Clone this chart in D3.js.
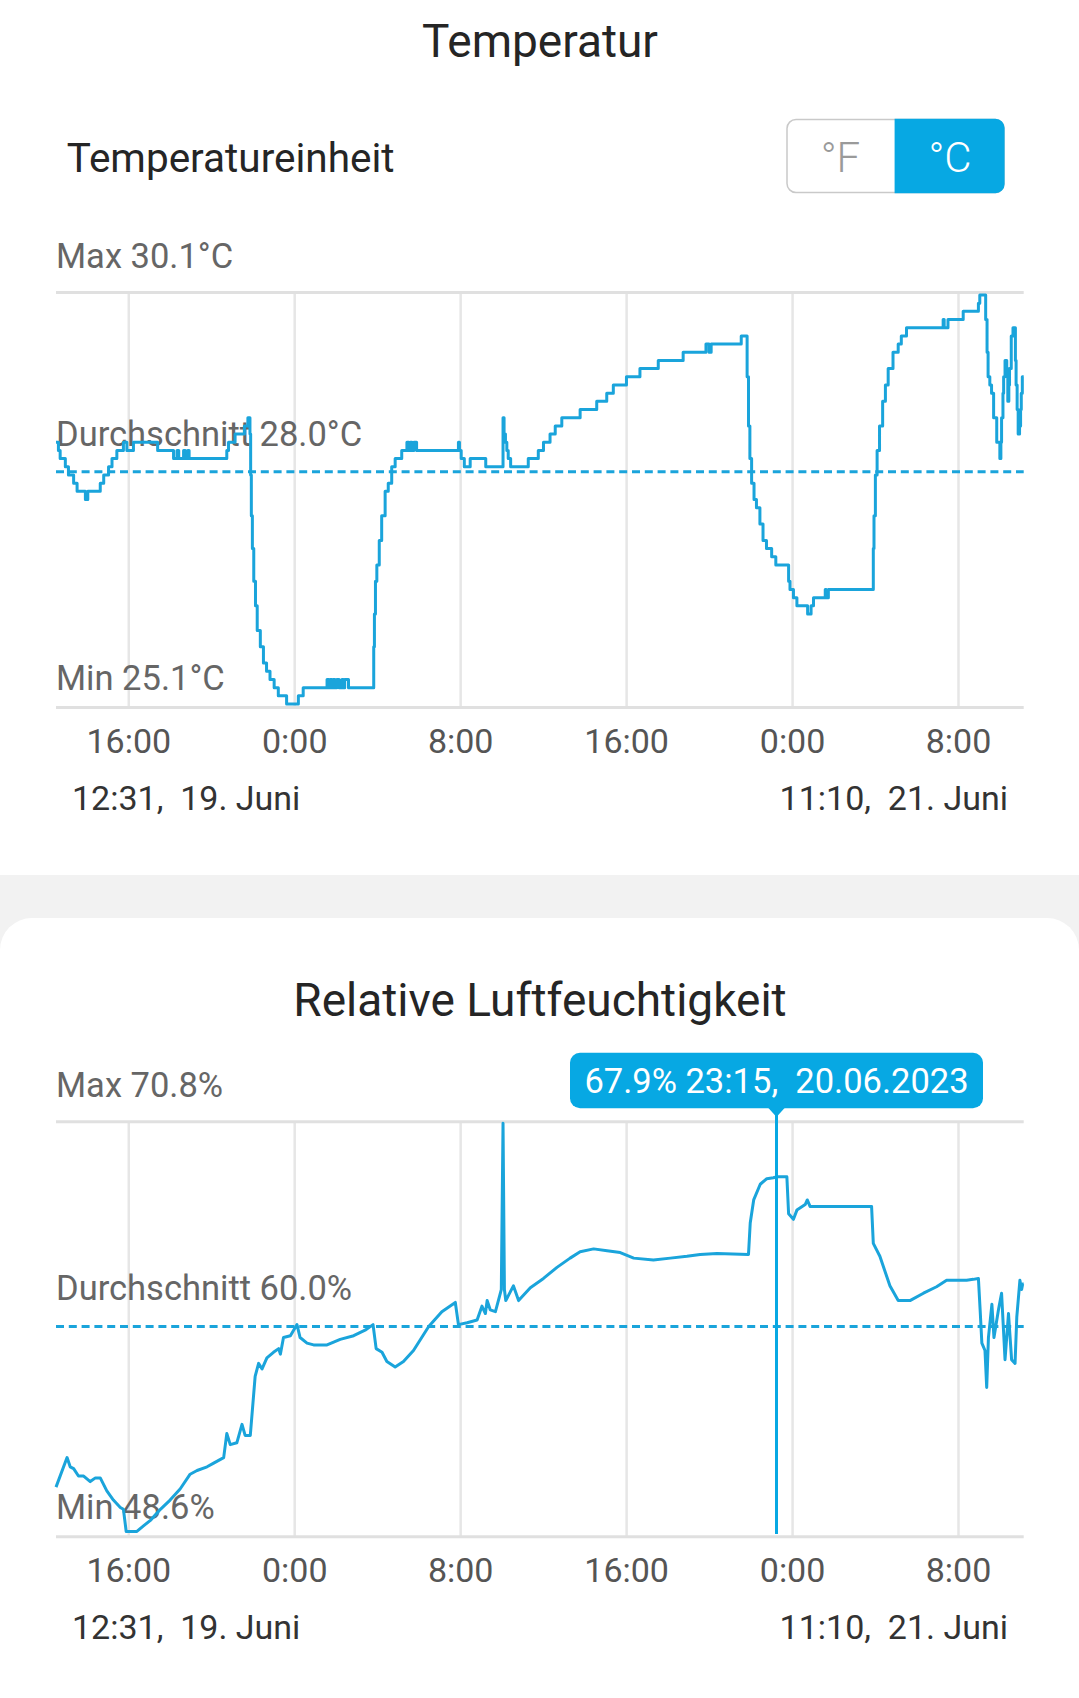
<!DOCTYPE html>
<html><head><meta charset="utf-8">
<script src="https://cdn.jsdelivr.net/npm/d3@7"></script>
<style>
html,body{margin:0;padding:0;background:#fff;}
svg{display:block;font-family:Roboto,"Noto Sans",sans-serif;}
text{white-space:pre;}
</style></head><body>
<svg id="c" width="1079" height="1698"></svg>
<script>
// ---------- DATA ----------
const RANGE_START = "19 12:31";
const RANGE_END = "21 11:10";
const RANGE_LABELS = ["12:31,  19. Juni", "11:10,  21. Juni"];
const TICK_EVERY_HOURS = 8;

const TEMP_TITLE = "Temperatur";
const TEMP_UNIT_LABEL = "Temperatureinheit";
const TEMP_UNITS = ["°F", "°C"];
const TEMP_DOMAIN = [25.1, 30.1];
const TEMP_AVG = 27.94;
const TEMP_LABELS = ["Max 30.1°C", "Durchschnitt 28.0°C", "Min 25.1°C"];
const TEMP_POINTS = [
["19 12:31",28.3],["19 12:38",28.2],["19 12:43",28.1],["19 12:58",28.0],["19 13:07",27.9],["19 13:22",27.8],["19 13:32",27.7],["19 13:56",27.6],["19 14:03",27.7],["19 14:39",27.8],["19 14:49",27.9],["19 15:03",28.0],["19 15:13",28.1],["19 15:27",28.2],["19 15:46",28.3],["19 15:56",28.2],["19 16:15",28.3],["19 17:25",28.2],["19 18:11",28.1],["19 18:21",28.2],["19 18:26",28.1],["19 18:40",28.2],["19 18:45",28.1],["19 18:52",28.2],["19 18:56",28.1],["19 20:45",28.2],["19 20:50",28.3],["19 21:09",28.4],["19 21:36",28.5],["19 21:46",28.6],["19 21:52",28.4],["19 21:54",27.9],["19 21:56",27.4],["19 21:59",27.0],["19 22:03",26.6],["19 22:08",26.3],["19 22:13",26.0],["19 22:22",25.8],["19 22:31",25.6],["19 22:40",25.5],["19 22:50",25.4],["19 23:02",25.3],["19 23:14",25.2],["19 23:38",25.1],
["20 00:12",25.2],["20 00:26",25.3],["20 01:35",25.4],["20 01:40",25.3],["20 01:44",25.4],["20 01:49",25.3],["20 01:53",25.4],["20 01:58",25.3],["20 02:03",25.4],["20 02:10",25.3],["20 02:18",25.4],["20 02:22",25.3],["20 02:26",25.4],["20 02:37",25.3],["20 03:50",25.8],["20 03:52",26.2],["20 03:55",26.6],["20 03:59",26.8],["20 04:06",27.1],["20 04:13",27.4],["20 04:23",27.7],["20 04:32",27.8],["20 04:42",28.0],["20 04:52",28.1],["20 05:11",28.2],["20 05:26",28.3],["20 05:32",28.2],["20 05:36",28.3],["20 05:41",28.2],["20 05:46",28.3],["20 05:54",28.2],["20 07:55",28.3],["20 07:58",28.2],["20 08:03",28.1],["20 08:12",28.0],["20 08:29",28.1],["20 09:14",28.0],["20 10:04",28.6],["20 10:07",28.4],["20 10:11",28.3],["20 10:15",28.2],["20 10:19",28.1],["20 10:26",28.0],["20 11:17",28.1],["20 11:46",28.2],["20 12:01",28.3],["20 12:20",28.4],["20 12:35",28.5],["20 12:54",28.6],["20 13:47",28.7],["20 14:35",28.8],["20 15:04",28.9],["20 15:23",29.0],["20 16:01",29.1],["20 16:40",29.2],["20 17:33",29.3],["20 18:45",29.4],["20 19:51",29.5],["20 20:00",29.4],["20 20:06",29.5],["20 21:33",29.6],["20 21:50",29.1],["20 21:54",28.5],["20 21:58",28.1],["20 22:03",27.8],["20 22:10",27.6],["20 22:17",27.5],["20 22:27",27.3],["20 22:36",27.1],["20 22:46",27.0],["20 23:01",26.9],["20 23:13",26.8],["20 23:50",26.6],["20 23:54",26.5],
["21 00:04",26.4],["21 00:14",26.3],["21 00:45",26.2],["21 00:55",26.3],["21 01:02",26.4],["21 01:36",26.5],["21 01:39",26.4],["21 01:45",26.5],["21 03:55",27.0],["21 03:57",27.4],["21 04:01",27.9],["21 04:06",28.2],["21 04:13",28.5],["21 04:22",28.8],["21 04:30",29.0],["21 04:38",29.2],["21 04:52",29.4],["21 05:07",29.5],["21 05:16",29.6],["21 05:31",29.7],["21 07:17",29.8],["21 07:20",29.7],["21 07:31",29.8],["21 08:15",29.9],["21 08:59",30.0],["21 09:03",30.1],["21 09:20",29.8],["21 09:24",29.4],["21 09:27",29.1],["21 09:32",29.0],["21 09:37",28.9],["21 09:43",28.6],["21 09:52",28.3],["21 10:01",28.1],["21 10:04",28.3],["21 10:06",28.6],["21 10:10",28.9],["21 10:12",29.1],["21 10:16",29.3],["21 10:21",29.2],["21 10:24",28.8],["21 10:27",29.0],["21 10:29",29.2],["21 10:34",29.6],["21 10:39",29.7],["21 10:44",29.7],["21 10:46",29.3],["21 10:48",29.0],["21 10:51",28.7],["21 10:54",28.4],["21 10:58",28.5],["21 11:01",28.7],["21 11:03",28.9],["21 11:06",29.1],["21 11:10",29.1]
];

const HUM_TITLE = "Relative Luftfeuchtigkeit";
const HUM_DOMAIN = [48.6, 70.8];
const HUM_AVG = 59.8;
const HUM_LABELS = ["Max 70.8%", "Durchschnitt 60.0%", "Min 48.6%"];
const HUM_POINTS = [
["19 12:31",51.1],["19 13:03",52.7],["19 13:12",52.2],["19 13:22",52.1],["19 13:36",51.7],["19 13:51",51.7],["19 14:10",51.4],["19 14:25",51.6],["19 14:39",51.6],["19 14:58",50.9],["19 15:17",50.4],["19 15:37",50.0],["19 15:46",49.9],["19 15:54",48.7],["19 16:25",48.7],["19 16:44",49.0],["19 17:04",49.3],["19 17:33",49.9],["19 18:01",50.4],["19 18:30",51.0],["19 18:59",51.8],["19 19:19",52.0],["19 19:48",52.2],["19 20:07",52.4],["19 20:36",52.7],["19 20:45",54.0],["19 20:55",53.4],["19 21:14",53.5],["19 21:29",54.5],["19 21:38",53.9],["19 21:53",53.9],["19 22:07",57.1],["19 22:17",57.8],["19 22:27",57.5],["19 22:41",58.1],["19 23:00",58.4],["19 23:15",58.6],["19 23:20",58.3],["19 23:29",59.2],["19 23:49",59.3],
["20 00:08",59.9],["20 00:17",59.2],["20 00:37",58.9],["20 00:56",58.8],["20 01:35",58.8],["20 02:13",59.1],["20 02:52",59.3],["20 03:25",59.6],["20 03:48",59.9],["20 03:57",58.6],["20 04:14",58.4],["20 04:28",57.9],["20 04:52",57.6],["20 05:16",57.9],["20 05:45",58.5],["20 06:29",59.8],["20 07:07",60.6],["20 07:46",61.1],["20 07:55",59.9],["20 08:20",60.0],["20 08:49",60.15],["20 09:03",60.9],["20 09:13",60.5],["20 09:18",61.2],["20 09:27",60.7],["20 09:42",60.6],["20 09:59",61.8],["20 10:04",70.8],["20 10:08",61.8],["20 10:12",61.2],["20 10:34",62.0],["20 10:49",61.2],["20 11:23",61.9],["20 12:01",62.4],["20 12:40",63.0],["20 13:18",63.5],["20 13:47",63.85],["20 14:26",64.0],["20 15:05",63.9],["20 15:43",63.8],["20 16:22",63.5],["20 17:19",63.4],["20 18:08",63.5],["20 18:56",63.6],["20 19:34",63.7],["20 20:23",63.75],["20 21:54",63.7],["20 21:59",65.4],["20 22:09",66.65],["20 22:28",67.5],["20 22:47",67.8],["20 23:06",67.85],["20 23:15",67.9],["20 23:45",67.9],["20 23:50",65.9],
["21 00:04",65.6],["21 00:14",66.1],["21 00:38",66.4],["21 00:44",66.65],["21 00:52",66.3],["21 02:19",66.3],["21 03:50",66.3],["21 03:55",64.3],["21 04:14",63.6],["21 04:43",62.0],["21 05:07",61.2],["21 05:41",61.2],["21 06:20",61.6],["21 06:58",61.95],["21 07:27",62.3],["21 08:25",62.3],["21 08:44",62.35],["21 08:59",62.4],["21 09:04",60.7],["21 09:09",58.9],["21 09:18",58.5],["21 09:23",56.5],["21 09:28",59.2],["21 09:38",61.0],["21 09:44",59.2],["21 09:57",60.7],["21 10:06",61.6],["21 10:16",58.0],["21 10:26",60.5],["21 10:35",58.0],["21 10:45",57.8],["21 10:50",60.3],["21 10:59",62.3],["21 11:04",61.8],["21 11:07",62.1],["21 11:10",62.1]
];

const TOOLTIP_POINT = ["20 23:15", 67.9];
const TOOLTIP_DATE = "20.06.2023";

// ---------- DRAWING ----------
const parse = d3.timeParse("%Y-%m-%d %H:%M");
const P = s => parse("2023-06-" + s.slice(0, 2) + " " + s.slice(3));
const svg = d3.select("#c");
const BLUE = "#1aa4db";
const TIP = "#07a8e3";

svg.append("rect").attr("x", 0).attr("y", 0).attr("width", 1079).attr("height", 1698).attr("fill", "#fff");
svg.append("rect").attr("x", 0).attr("y", 875).attr("width", 1079).attr("height", 823).attr("fill", "#f2f2f2");
svg.append("rect").attr("x", 0).attr("y", 918).attr("width", 1079).attr("height", 840).attr("rx", 32).attr("fill", "#fff");

const x = d3.scaleTime().domain([P(RANGE_START), P(RANGE_END)]).range([56, 1023.7]);

function panel(cfg) {
  const g = svg.append("g");
  const y = d3.scaleLinear().domain(cfg.domain).range(cfg.yRange);
  g.append("text").attr("x", 540).attr("y", cfg.titleY).attr("text-anchor", "middle")
    .attr("font-size", 46).attr("fill", "#252525").text(cfg.title);

  // axis + vertical grid
  const axis = d3.axisBottom(x).ticks(d3.timeHour.every(TICK_EVERY_HOURS))
    .tickFormat(d3.timeFormat("%-H:%M")).tickSizeInner(-(cfg.bottom - cfg.top)).tickSizeOuter(0);
  const ax = g.append("g").attr("transform", `translate(0,${cfg.bottom})`).call(axis);
  ax.select(".domain").remove();
  ax.selectAll(".tick line").attr("stroke", "#e6e6e6").attr("stroke-width", 2.5);
  ax.selectAll(".tick text").attr("y", 45.5).attr("dy", 0).attr("font-size", 34)
    .attr("fill", "#555").attr("font-family", "Roboto");

  // frame lines
  [cfg.top, cfg.bottom].forEach(v => g.append("line").attr("x1", 56).attr("x2", 1023.7)
    .attr("y1", v).attr("y2", v).attr("stroke", "#e0e0e0").attr("stroke-width", 3));

  // range labels
  g.append("text").attr("x", 72).attr("y", cfg.bottom + 102.5).attr("font-size", 34)
    .attr("fill", "#333").text(RANGE_LABELS[0]);
  g.append("text").attr("x", 1008).attr("y", cfg.bottom + 102.5).attr("font-size", 34)
    .attr("text-anchor", "end").attr("fill", "#333").text(RANGE_LABELS[1]);

  // stat labels
  const ya = y(cfg.avg);
  const lab = [cfg.top - 24.5, ya - 26, cfg.bottom - 17.5];
  cfg.labels.forEach((t, i) => g.append("text").attr("x", 56).attr("y", lab[i])
    .attr("font-size", 34.5).attr("fill", "#666").text(t));

  // average dashed line
  g.append("line").attr("x1", 56).attr("x2", 1023.7).attr("y1", ya).attr("y2", ya)
    .attr("stroke", BLUE).attr("stroke-width", 3).attr("stroke-dasharray", "8,4.8");

  // data line
  const line = d3.line().x(d => x(P(d[0]))).y(d => y(d[1])).curve(cfg.curve);
  g.append("path").datum(cfg.points).attr("d", line).attr("fill", "none")
    .attr("stroke", BLUE).attr("stroke-width", 3).attr("stroke-linejoin", "round");
  return {g, y};
}

// top card
svg.append("text").attr("x", 66.7).attr("y", 171.7).attr("font-size", 40.5).attr("fill", "#252525").text(TEMP_UNIT_LABEL);
const tg = svg.append("g");
tg.append("rect").attr("x", 787).attr("y", 119.5).attr("width", 217).attr("height", 73).attr("rx", 9)
  .attr("fill", "#fff").attr("stroke", "#c9c9c9").attr("stroke-width", 1.5);
tg.append("path").attr("d", "M894.6,118.8 H995.6 A9,9 0 0 1 1004.6,127.8 V184.2 A9,9 0 0 1 995.6,193.2 H894.6 Z").attr("fill", TIP);
tg.append("text").attr("x", 840.5).attr("y", 171.7).attr("text-anchor", "middle").attr("font-size", 42)
  .attr("font-weight", 300).attr("fill", "#9a9a9a").text(TEMP_UNITS[0]);
tg.append("text").attr("x", 950).attr("y", 171.7).attr("text-anchor", "middle").attr("font-size", 42)
  .attr("font-weight", 300).attr("fill", "#fff").text(TEMP_UNITS[1]);

panel({title: TEMP_TITLE, titleY: 57, top: 292.5, bottom: 707.5, yRange: [704, 295],
  domain: TEMP_DOMAIN, avg: TEMP_AVG, labels: TEMP_LABELS, points: TEMP_POINTS, curve: d3.curveStepAfter});

const hum = panel({title: HUM_TITLE, titleY: 1016, top: 1121.7, bottom: 1536.7, yRange: [1533.3, 1123.3],
  domain: HUM_DOMAIN, avg: HUM_AVG, labels: HUM_LABELS, points: HUM_POINTS, curve: d3.curveLinear});

// tooltip
const tx = x(P(TOOLTIP_POINT[0]));
const tip = svg.append("g");
tip.append("line").attr("x1", tx).attr("x2", tx).attr("y1", 1108).attr("y2", 1534)
  .attr("stroke", TIP).attr("stroke-width", 3);
tip.append("rect").attr("x", tx - 206.5).attr("y", 1052.7).attr("width", 413).attr("height", 55.6)
  .attr("rx", 10).attr("fill", TIP);
tip.append("path").attr("d", `M${tx - 9},1107 L${tx + 9},1107 L${tx},1117 Z`).attr("fill", TIP);
const tipText = TOOLTIP_POINT[1].toFixed(1) + "% " + TOOLTIP_POINT[0].slice(3) + ",  " + TOOLTIP_DATE;
tip.append("text").attr("x", tx).attr("y", 1093).attr("text-anchor", "middle").attr("font-size", 34.5)
  .attr("fill", "#fff").text(tipText);
</script>
</body></html>
